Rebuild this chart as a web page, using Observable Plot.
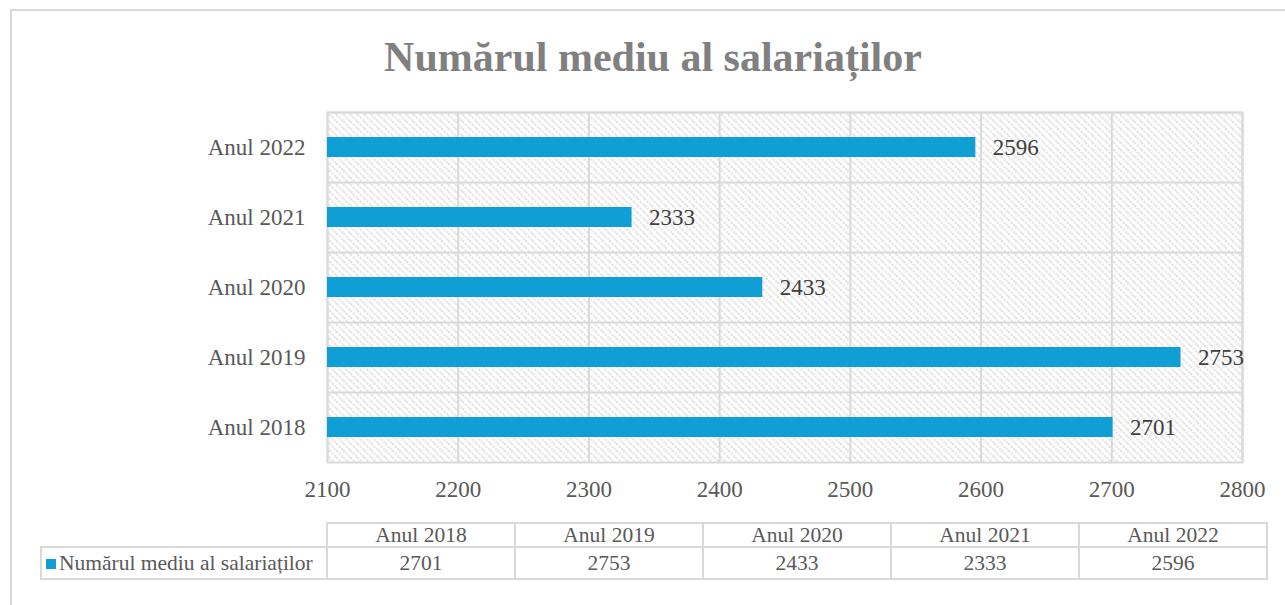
<!DOCTYPE html>
<html>
<head>
<meta charset="utf-8">
<script src="https://cdn.jsdelivr.net/npm/d3@7"></script>
<script src="https://cdn.jsdelivr.net/npm/@observablehq/plot@0.6"></script>
<style>
  html, body { margin: 0; padding: 0; background: #fff; }
  body { width: 1285px; height: 605px; overflow: hidden; position: relative; font-family: "Liberation Serif", "Times New Roman", serif; }
  #border { position: absolute; left: 10px; top: 9px; width: 1320px; height: 640px; border-left: 2px solid #d9d9d9; border-top: 2px solid #d9d9d9; box-sizing: border-box; }
  #title { position: absolute; left: 0; top: 33px; width: 1306px; text-align: center; font-weight: bold; font-size: 42px; line-height: 48px; color: #808080; }
  #chart { position: absolute; left: 0; top: 100px; }
  #tbl { position: absolute; left: 40px; top: 522px; border-collapse: collapse; color: #595959; font-size: 21.5px; table-layout: fixed; }
  #tbl td { border: 2px solid #d9d9d9; text-align: center; padding: 0; white-space: nowrap; overflow: hidden; }
  #tbl td.empty { border: none; }
  #tbl tr.head td { height: 22px; line-height: 22px; }
  #tbl tr.vals td { height: 30px; line-height: 30px; }
  #tbl td.leg { text-align: left; padding-left: 4px; }
  .sw { display: inline-block; width: 10px; height: 10px; background: #109fd5; margin-right: 3px; vertical-align: 1px; }
</style>
</head>
<body>
<div id="border"></div>
<div id="title"></div>
<div id="chart"></div>
<table id="tbl"></table>
<script>
const chartTitle = "Numărul mediu al salariaților";
const seriesName = "Numărul mediu al salariaților";
const categories = ["Anul 2018", "Anul 2019", "Anul 2020", "Anul 2021", "Anul 2022"];
const values = [2701, 2753, 2433, 2333, 2596];
const xTicks = [2100, 2200, 2300, 2400, 2500, 2600, 2700, 2800];
const barColor = "#109fd5";
const gridColor = "#d9d9d9";

const data = categories.map((c, i) => ({cat: c, value: values[i]}));

document.getElementById("title").textContent = chartTitle;

const plot = Plot.plot({
  width: 1285,
  height: 415,
  marginTop: 12,
  marginBottom: 53,
  marginLeft: 327,
  marginRight: 43,
  style: {fontFamily: "'Liberation Serif', 'Times New Roman', serif", fontSize: "23px", color: "#595959", background: "transparent", overflow: "visible"},
  x: {domain: [xTicks[0], xTicks[xTicks.length - 1]], ticks: xTicks, tickSize: 0, tickPadding: 18, label: null, tickFormat: d => String(d)},
  y: {domain: [...categories].reverse(), paddingInner: 0.714, paddingOuter: 0.357, tickSize: 0, tickPadding: 22, label: null},
  marks: [
    Plot.frame({fill: "url(#hatch)", stroke: "none"}),
    Plot.gridX(xTicks, {stroke: gridColor, strokeOpacity: 1, strokeWidth: 2}),
    Plot.ruleY(categories, {y: d => d, dy: -35, stroke: gridColor, strokeWidth: 2}),
    Plot.frame({stroke: gridColor, strokeWidth: 2}),
    Plot.barX(data, {x1: () => xTicks[0], x2: "value", y: "cat", fill: barColor}),
    Plot.text(data, {x: "value", y: "cat", text: d => String(d.value), textAnchor: "start", dx: 17, fill: "#404040", fontSize: 23})
  ]
});

// hatch pattern definition
const ns = "http://www.w3.org/2000/svg";
const defs = document.createElementNS(ns, "defs");
const pat = document.createElementNS(ns, "pattern");
pat.setAttribute("id", "hatch");
pat.setAttribute("patternUnits", "userSpaceOnUse");
pat.setAttribute("width", "7");
pat.setAttribute("height", "7");
const bg = document.createElementNS(ns, "rect");
bg.setAttribute("width", "7"); bg.setAttribute("height", "7"); bg.setAttribute("fill", "#ffffff");
const ln = document.createElementNS(ns, "path");
ln.setAttribute("d", "M0,0L7,7M-1,6L1,8M6,-1L8,1");
ln.setAttribute("stroke", "#d0d0d0");
ln.setAttribute("stroke-width", "1.4");
ln.setAttribute("stroke-dasharray", "2 1.5");
pat.appendChild(bg); pat.appendChild(ln);
defs.appendChild(pat);
plot.insertBefore(defs, plot.firstChild);
document.getElementById("chart").appendChild(plot);

// data table below the chart
const tbl = document.getElementById("tbl");
const head = document.createElement("tr"); head.className = "head";
const e = document.createElement("td"); e.className = "empty"; e.style.width = "285px"; head.appendChild(e);
categories.forEach(c => { const td = document.createElement("td"); td.textContent = c; td.style.width = "186px"; head.appendChild(td); });
tbl.appendChild(head);
const row = document.createElement("tr"); row.className = "vals";
const leg = document.createElement("td"); leg.className = "leg";
const sw = document.createElement("span"); sw.className = "sw"; leg.appendChild(sw);
leg.appendChild(document.createTextNode(seriesName));
row.appendChild(leg);
values.forEach(v => { const td = document.createElement("td"); td.textContent = String(v); row.appendChild(td); });
tbl.appendChild(row);
</script>
</body>
</html>
